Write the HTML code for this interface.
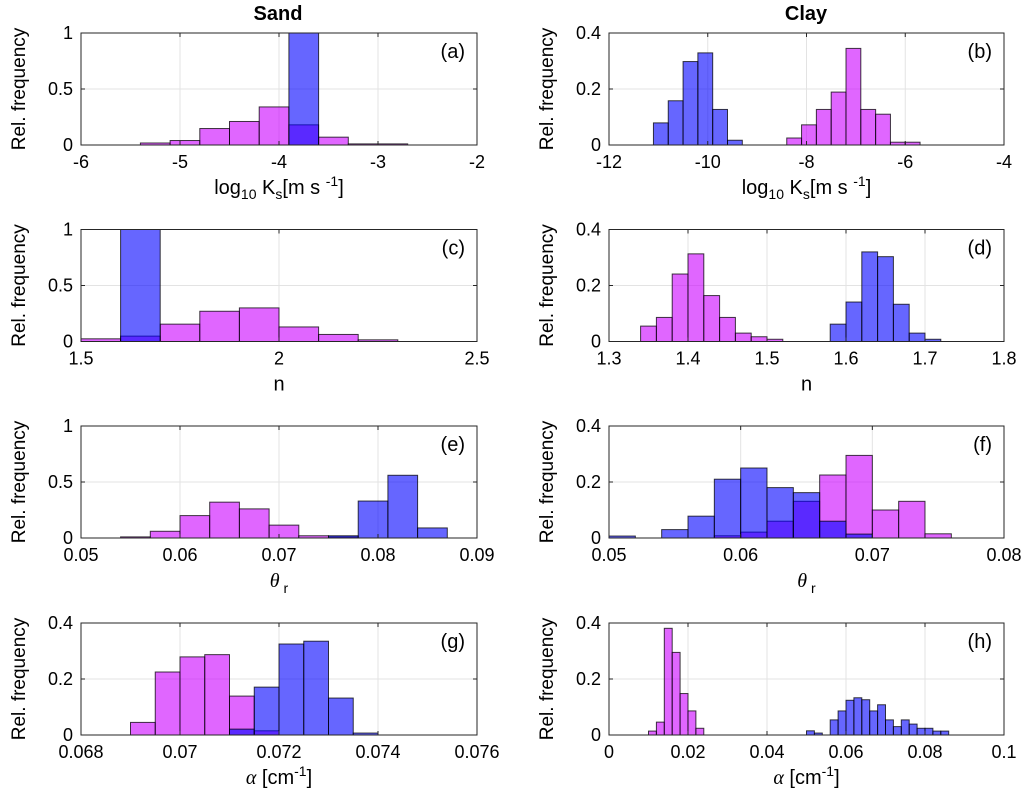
<!DOCTYPE html>
<html><head><meta charset="utf-8"><style>
html,body{margin:0;padding:0;background:#fff;}
svg{display:block;font-family:"Liberation Sans",Arial,sans-serif;}
</style></head><body>
<svg id="fig" width="1026" height="809" viewBox="0 0 1026 809">
<text x="278" y="20" font-size="20" font-weight="bold" text-anchor="middle">Sand</text>
<text x="806" y="20" font-size="20" font-weight="bold" text-anchor="middle">Clay</text>
</svg>
<script>
// Panel (a) Sand log10 Ks
const aMagStart=-5.4, aMagWidth=0.3, aMag=[0.018,0.04,0.147,0.21,0.34,0.18,0.07,0.01,0.01];
const aBluStart=-3.9, aBluWidth=0.3, aBlu=[1.0];
// Panel (b) Clay log10 Ks
const bMagStart=-8.4, bMagWidth=0.3, bMag=[0.025,0.072,0.127,0.189,0.345,0.127,0.11,0.01,0.01];
const bBluStart=-11.1, bBluWidth=0.3, bBlu=[0.079,0.158,0.298,0.329,0.127,0.017];
// Panel (c) Sand n
const cMagStart=1.5, cMagWidth=0.1, cMag=[0.024,0.048,0.155,0.27,0.3,0.13,0.063,0.015];
const cBluStart=1.6, cBluWidth=0.1, cBlu=[1.0];
// Panel (d) Clay n
const dMagStart=1.34, dMagWidth=0.02, dMag=[0.055,0.086,0.241,0.313,0.164,0.086,0.03,0.017,0.008];
const dBluStart=1.58, dBluWidth=0.02, dBlu=[0.062,0.141,0.32,0.303,0.133,0.03,0.008];
// Panel (e) Sand theta_r
const eMagStart=0.054, eMagWidth=0.003, eMag=[0.01,0.06,0.2,0.32,0.26,0.115,0.02,0.01];
const eBluStart=0.075, eBluWidth=0.003, eBlu=[0.02,0.33,0.56,0.09];
// Panel (f) Clay theta_r
const fMagStart=0.058, fMagWidth=0.002, fMag=[0.008,0.021,0.06,0.131,0.225,0.295,0.1,0.131,0.015];
const fBluStart=0.050, fBluWidth=0.002, fBlu=[0.007,0,0.03,0.078,0.21,0.25,0.18,0.162,0.06,0.014];
// Panel (g) Sand alpha
const gMagStart=0.069, gMagWidth=0.0005, gMag=[0.045,0.225,0.279,0.287,0.139,0.015];
const gBluStart=0.071, gBluWidth=0.0005, gBlu=[0.021,0.171,0.325,0.335,0.132,0.007];
// Panel (h) Clay alpha
const hMagStart=0.010, hMagWidth=0.002, hMag=[0.014,0.046,0.381,0.295,0.148,0.086,0.024];
const hBluStart=0.050, hBluWidth=0.002, hBlu=[0.015,0.007,0,0.054,0.086,0.124,0.133,0.126,0.086,0.108,0.054,0.03,0.054,0.039,0.024,0.024,0.014,0.014];
// tick labels
const xTicksA=["-6","-5","-4","-3","-2"], xTicksB=["-12","-10","-8","-6","-4"];
const xTicksC=["1.5","2","2.5"], xTicksD=["1.3","1.4","1.5","1.6","1.7","1.8"];
const xTicksE=["0.05","0.06","0.07","0.08","0.09"], xTicksF=["0.05","0.06","0.07","0.08"];
const xTicksG=["0.068","0.07","0.072","0.074","0.076"], xTicksH=["0","0.02","0.04","0.06","0.08","0.1"];
const yTicks1=["0","0.5","1"], yTicks04=["0","0.2","0.4"];

const NS="http://www.w3.org/2000/svg";
const svg=document.getElementById('fig');
function mk(tag,attrs,parent){const e=document.createElementNS(NS,tag);for(const k in attrs)e.setAttribute(k,attrs[k]);(parent||svg).appendChild(e);return e;}

const LX=[81,477], RX=[609,1004];
const TOPS=[33,229.5,426,623], H=112;
const panels=[
 {id:'a',col:LX,row:0,xt:xTicksA,yt:yTicks1,ymax:1,mS:aMagStart,mW:aMagWidth,m:aMag,bS:aBluStart,bW:aBluWidth,b:aBlu,xl:'ks'},
 {id:'b',col:RX,row:0,xt:xTicksB,yt:yTicks04,ymax:0.4,mS:bMagStart,mW:bMagWidth,m:bMag,bS:bBluStart,bW:bBluWidth,b:bBlu,xl:'ks'},
 {id:'c',col:LX,row:1,xt:xTicksC,yt:yTicks1,ymax:1,mS:cMagStart,mW:cMagWidth,m:cMag,bS:cBluStart,bW:cBluWidth,b:cBlu,xl:'n'},
 {id:'d',col:RX,row:1,xt:xTicksD,yt:yTicks04,ymax:0.4,mS:dMagStart,mW:dMagWidth,m:dMag,bS:dBluStart,bW:dBluWidth,b:dBlu,xl:'n'},
 {id:'e',col:LX,row:2,xt:xTicksE,yt:yTicks1,ymax:1,mS:eMagStart,mW:eMagWidth,m:eMag,bS:eBluStart,bW:eBluWidth,b:eBlu,xl:'th'},
 {id:'f',col:RX,row:2,xt:xTicksF,yt:yTicks04,ymax:0.4,mS:fMagStart,mW:fMagWidth,m:fMag,bS:fBluStart,bW:fBluWidth,b:fBlu,xl:'th'},
 {id:'g',col:LX,row:3,xt:xTicksG,yt:yTicks04,ymax:0.4,mS:gMagStart,mW:gMagWidth,m:gMag,bS:gBluStart,bW:gBluWidth,b:gBlu,xl:'al'},
 {id:'h',col:RX,row:3,xt:xTicksH,yt:yTicks04,ymax:0.4,mS:hMagStart,mW:hMagWidth,m:hMag,bS:hBluStart,bW:hBluWidth,b:hBlu,xl:'al'}
];

panels.forEach(p=>{
  const x0=p.col[0],x1=p.col[1],y0=TOPS[p.row],y1=y0+H;
  const xmin=parseFloat(p.xt[0]),xmax=parseFloat(p.xt[p.xt.length-1]);
  const X=v=>x0+(v-xmin)/(xmax-xmin)*(x1-x0);
  const Y=v=>y1-v/p.ymax*H;
  const g=mk('g',{});
  
  
  p.xt.forEach(t=>{const x=X(parseFloat(t));const l=mk('line',{x1:x,x2:x,y1:y0,y2:y1,stroke:'#e3e3e3','stroke-width':1},g);
    });
  p.yt.forEach(t=>{const y=Y(parseFloat(t));const l=mk('line',{x1:x0,x2:x1,y1:y,y2:y,stroke:'#e3e3e3','stroke-width':1},g);
    });
  const drawBars=(start,w,vals,fill,name)=>{vals.forEach((v,i)=>{if(v<=0)return;
    const a=start+i*w,b=a+w;
    const r=mk('rect',{x:X(a),y:Y(v),width:X(b)-X(a),height:y1-Y(v),fill:fill,'fill-opacity':0.6,stroke:'#000','stroke-opacity':0.75,'stroke-width':1},g);
    
    });};
  drawBars(p.mS,p.mW,p.m,'rgb(204,0,255)','magenta-bar');
  drawBars(p.bS,p.bW,p.b,'rgb(0,0,255)','blue-bar');
  const bx=mk('rect',{x:x0,y:y0,width:x1-x0,height:H,fill:'none',stroke:'#262626','stroke-width':1},g);
  
  p.xt.forEach(t=>{const x=X(parseFloat(t));
    mk('line',{x1:x,x2:x,y1:y1,y2:y1-4,stroke:'#262626'},g);mk('line',{x1:x,x2:x,y1:y0,y2:y0+4,stroke:'#262626'},g);
    const tx=mk('text',{x:x,y:y1+23,'font-size':18,'text-anchor':'middle',fill:'#000'},g);tx.textContent=t;
    });
  p.yt.forEach(t=>{const y=Y(parseFloat(t));
    mk('line',{x1:x0,x2:x0+4,y1:y,y2:y,stroke:'#262626'},g);mk('line',{x1:x1,x2:x1-4,y1:y,y2:y,stroke:'#262626'},g);
    const tx=mk('text',{x:x0-8,y:y+6,'font-size':18,'text-anchor':'end',fill:'#000'},g);tx.textContent=t;
    });
  const pl=mk('text',{x:x1-12,y:y0+25,'font-size':20,'text-anchor':'end'},g);pl.textContent='('+p.id+')';
  
  const yl=mk('text',{transform:`translate(${x0-56},${(y0+y1)/2}) rotate(-90)`,'font-size':19,'text-anchor':'middle'},g);
  yl.textContent='Rel. frequency';
  
  const cx=(x0+x1)/2, ly=y1+49;
  const xl=mk('text',{x:cx,y:ly,'font-size':20,'text-anchor':'middle'},g);
  
  if(p.xl==='ks'){xl.innerHTML='log<tspan font-size="14" dy="5">10</tspan><tspan dy="-5">  K</tspan><tspan font-size="14" dy="5">s</tspan><tspan dy="-5">[m  s </tspan><tspan font-size="14" dy="-8">-1</tspan><tspan dy="8">]</tspan>';}
  else if(p.xl==='n'){xl.textContent='n';}
  else if(p.xl==='th'){xl.innerHTML='<tspan font-family="Liberation Serif" font-style="italic">θ</tspan><tspan font-size="14" dy="6"> r</tspan>';}
  else {xl.innerHTML='<tspan font-family="Liberation Serif" font-style="italic">α</tspan> [cm<tspan font-size="14" dy="-8">-1</tspan><tspan dy="8">]</tspan>';}
});
</script>
</body></html>
